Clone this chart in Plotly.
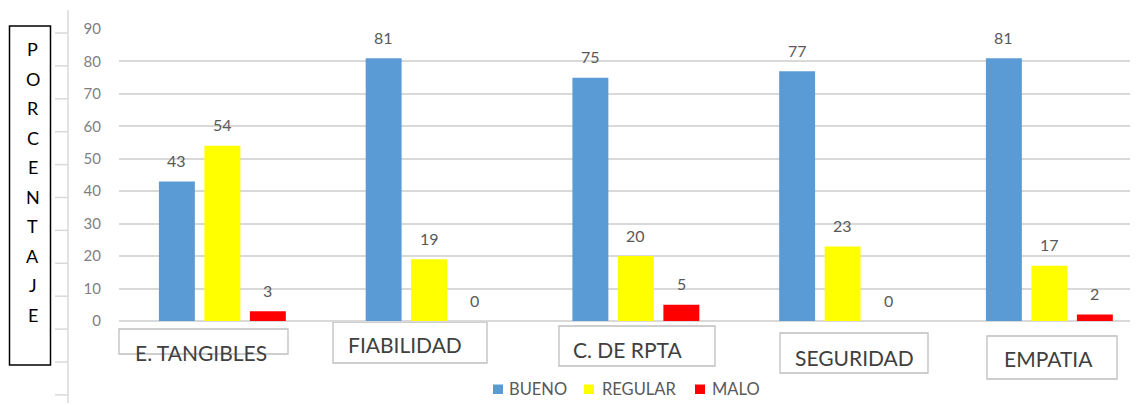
import plotly.graph_objects as go

# ---------------- data ----------------
categories = ["E. TANGIBLES", "FIABILIDAD", "C. DE RPTA", "SEGURIDAD", "EMPATIA"]
bueno = [43, 81, 75, 77, 81]
regular = [54, 19, 20, 23, 17]
malo = [3, 0, 5, 0, 2]
series_names = ["BUENO", "REGULAR", "MALO"]
y_ticks = [0, 10, 20, 30, 40, 50, 60, 70, 80, 90]
axis_title = "PORCENTAJE"

# ---------------- style ----------------
colors = ["#5B9BD5", "#FFFF00", "#FF0000"]
FONT = "Lato"
GRID = "#D9D9D9"
WIN_W, WIN_H = 1138, 406
OFF = 8  # default page body margin
W_FIG, H_FIG = WIN_W - OFF, WIN_H - OFF
PLOT_LEFT_WIN, PLOT_TOP_WIN, PLOT_BOTTOM_WIN = 119, 29, 321
L = PLOT_LEFT_WIN - OFF
T = PLOT_TOP_WIN - OFF
B = WIN_H - PLOT_BOTTOM_WIN
R = 0
PW = W_FIG - L - R
PH = H_FIG - T - B
CAT_PX = 206.75  # pixel width of one category
BARGAP = 0.34
BARGROUPGAP = 0.21


def px(x):
    """window pixel x -> paper x"""
    return (x - PLOT_LEFT_WIN) / PW


def py(y):
    """window pixel y -> paper y"""
    return (PLOT_BOTTOM_WIN - y) / PH


series = [bueno, regular, malo]
xs = list(range(len(categories)))

fig = go.Figure()
for name, vals, col in zip(series_names, series, colors):
    fig.add_trace(go.Bar(
        name=name, x=xs, y=vals, marker=dict(color=col, line=dict(width=0)),
        showlegend=False, hovertext=categories,
    ))

# data labels
group_w = 1 - BARGAP
n = len(series)
annotations = []
for j, vals in enumerate(series):
    off = (j - (n - 1) / 2) * group_w / n
    for i, v in enumerate(vals):
        annotations.append(dict(
            x=i + off, y=v, xref="x", yref="y", text=str(v), showarrow=False,
            yshift=21, yanchor="middle", xanchor="center",
            font=dict(family=FONT, size=16, color="#595959"),
        ))

# category label boxes (window pixel boxes: x0, y0, x1, y1, text cx, text cy)
label_boxes = [
    (119, 329, 288, 354, 200.5, 352.5),
    (333, 322, 487, 363, 404.5, 345),
    (559, 326, 715, 366, 627.5, 349),
    (780, 333, 928, 373, 854, 357),
    (987, 336, 1117, 379, 1048.5, 358),
]
shapes = []
for cat, (x0, y0, x1, y1, cx, cy) in zip(categories, label_boxes):
    shapes.append(dict(type="rect", xref="paper", yref="paper",
                       x0=px(x0), x1=px(x1), y0=py(y1), y1=py(y0),
                       line=dict(color="#BFBFBF", width=1.3), fillcolor="rgba(0,0,0,0)",
                       layer="below"))
    annotations.append(dict(x=px(cx), y=py(cy), xref="paper", yref="paper", text=cat,
                            showarrow=False, xanchor="center", yanchor="middle",
                            font=dict(family=FONT, size=21, color="#404040")))

# left decorative axis line with ticks
shapes.append(dict(type="line", xref="paper", yref="paper",
                   x0=px(68), x1=px(68), y0=py(403), y1=py(10),
                   line=dict(color=GRID, width=1.5)))
for k in range(12):
    yy = 33 + 32.9 * k
    shapes.append(dict(type="line", xref="paper", yref="paper",
                       x0=px(55), x1=px(68), y0=py(yy), y1=py(yy),
                       line=dict(color=GRID, width=1.5)))

# PORCENTAJE box with stacked letters
shapes.append(dict(type="rect", xref="paper", yref="paper",
                   x0=px(9.5), x1=px(50.5), y0=py(365), y1=py(26),
                   line=dict(color="#000000", width=1.5)))
for k, ch in enumerate(axis_title):
    annotations.append(dict(x=px(32.5), y=py(49 + 29.55 * k), xref="paper", yref="paper",
                            text=ch, showarrow=False, xanchor="center", yanchor="middle",
                            font=dict(family=FONT, size=18, color="#000000")))

# custom legend
legend_items = [(493, 507), (584, 600), (695, 710)]  # square left x, text left x
for (sq_x, tx), name, col in zip(legend_items, series_names, colors):
    shapes.append(dict(type="rect", xref="paper", yref="paper",
                       x0=px(sq_x), x1=px(sq_x + 10), y0=py(394), y1=py(384.5),
                       line=dict(width=0), fillcolor=col))
    annotations.append(dict(x=px(tx), y=py(389), xref="paper", yref="paper", text=name,
                            showarrow=False, xanchor="left", yanchor="middle",
                            font=dict(family=FONT, size=16.5, color="#595959")))

fig.update_layout(
    width=W_FIG, height=H_FIG,
    margin=dict(l=L, r=R, t=T, b=B, pad=0),
    plot_bgcolor="white", paper_bgcolor="white",
    barmode="group", bargap=BARGAP, bargroupgap=BARGROUPGAP,
    font=dict(family=FONT),
    shapes=shapes, annotations=annotations,
    xaxis=dict(range=[-0.5, -0.5 + PW / CAT_PX], showticklabels=False, showgrid=False,
               zeroline=False, showline=False, ticks=""),
    yaxis=dict(range=[0, 90], tickvals=y_ticks, showgrid=True, gridcolor=GRID, gridwidth=1.5,
               zeroline=True, zerolinecolor=GRID, zerolinewidth=1.5, showline=False,
               ticks="", ticklabelstandoff=17,
               tickfont=dict(family=FONT, size=15, color="#7F7F7F")),
)

fig.write_html("out.html")
